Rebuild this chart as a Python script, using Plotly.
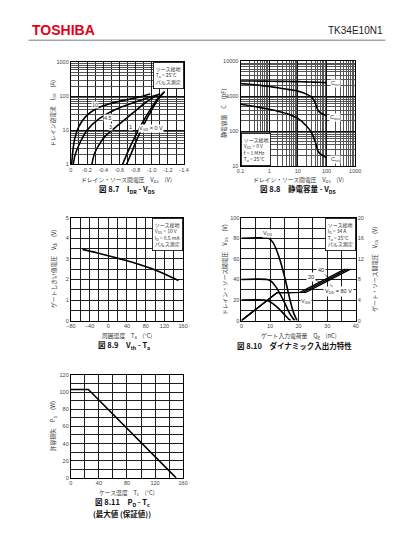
import math
import plotly.graph_objects as go

W, H = 396, 550

# ---------------- Fig 8.7  I_DR - V_DS ----------------
idr_vds_10 = [-0.01, -0.025, -0.05, -0.1, -0.18, -0.3, -0.47, -0.66, -0.85, -0.98]
idr_i_10 = [1, 2.5, 6, 13, 25, 42, 60, 77, 96, 118]
idr_vds_45 = [-0.03, -0.05, -0.1, -0.2, -0.35, -0.54, -0.77, -0.95, -1.06]
idr_i_45 = [1, 1.8, 3.7, 10, 22, 40, 65, 90, 110]
idr_vds_3 = [-0.26, -0.29, -0.34, -0.43, -0.58, -0.77, -0.92, -1.04, -1.1]
idr_i_3 = [1, 2, 3.5, 7, 14, 33, 65, 100, 120]
idr_vds_1 = [-0.64, -0.7, -0.78, -0.88, -0.98, -1.08, -1.15]
idr_i_1 = [1, 2.2, 5.6, 16, 40, 89, 132]
idr_vds_0 = [-0.69, -0.75, -0.82, -0.91, -1.0, -1.09, -1.16]
idr_i_0 = [1, 2.2, 5.6, 16, 40, 89, 140]
idr_x_ticks = [0, -0.2, -0.4, -0.6, -0.8, -1.0, -1.2, -1.4]
idr_x_text = ["0", "-0.2", "-0.4", "-0.6", "-0.8", "-1.0", "-1.2", "-1.4"]
idr_y_ticks = [1, 10, 100, 1000]

# ---------------- Fig 8.8  C - V_DS ----------------
cap_vds = [0.1, 0.2, 0.5, 1, 2, 5, 10, 20, 30, 40, 50, 60, 80, 100]
cap_ciss = [2750, 2740, 2720, 2700, 2680, 2650, 2620, 2580, 2560, 2540, 2520, 2500, 2480, 2460]
cap_coss = [2300, 2200, 2050, 1900, 1750, 1550, 1400, 1150, 950, 650, 400, 340, 300, 280]
cap_crss = [590, 540, 470, 420, 370, 300, 230, 140, 90, 50, 27, 22, 19, 17]
cap_x_ticks = [0.1, 1, 10, 100, 1000]
cap_y_ticks = [10, 100, 1000, 10000]

# ---------------- Fig 8.9  Vth - Ta ----------------
vth_ta = [-55, -25, 0, 25, 50, 75, 100, 125, 150]
vth_v = [3.46, 3.3, 3.15, 3.0, 2.85, 2.66, 2.46, 2.22, 1.95]

# ---------------- Fig 8.10  dynamic ----------------
dyn_q_vds80 = [0, 9.5, 11, 12.5, 14, 15.5, 17, 18.3, 19.5]
dyn_vds80 = [80, 80, 76, 67, 54, 38, 20, 7, 0]
dyn_q_vds40 = [0, 9, 10.5, 12, 13.5, 15, 16.5, 17.8, 18.7]
dyn_vds40 = [40, 40, 38, 33, 26, 18, 9, 3, 0]
dyn_q_vds20 = [0, 8, 9.5, 11, 12.5, 14, 15.5, 16.5, 17.3]
dyn_vds20 = [20, 20, 19, 16.5, 13, 9, 4.5, 1.5, 0]
dyn_q_vgs20 = [0, 12.5, 20.5, 36.2]
dyn_vgs20 = [0, 5.45, 5.5, 10]
dyn_q_vgs40 = [0, 12.5, 21.5, 37.2]
dyn_vgs40 = [0, 5.45, 5.5, 10]
dyn_q_vgs80 = [0, 12.5, 22.5, 38.2]
dyn_vgs80 = [0, 5.45, 5.5, 10]

# ---------------- Fig 8.11  PD - Tc ----------------
pd_tc = [0, 25, 150]
pd_w = [103, 103, 0]

JP = "Noto Sans CJK JP"
NUM = "Liberation Sans, Arial, sans-serif"
GRID = "#1e1e1e"
tickfont = dict(family=NUM, size=5.5, color="#444")


def fx(px):
    return px / W


def fy(py):
    return 1 - py / H


def base_axis(domain, anchor):
    return dict(domain=domain, anchor=anchor, showline=True, linecolor="black", linewidth=1,
                mirror=True, zeroline=False, ticks="", tickfont=tickfont, showgrid=True,
                gridcolor=GRID, gridwidth=0.8, fixedrange=True)


def lin_axis(domain, anchor, rng, dtick, mdtick):
    a = base_axis(domain, anchor)
    a.update(range=rng, dtick=dtick, tick0=0,
             minor=dict(dtick=mdtick, tick0=0, showgrid=True, gridcolor=GRID, gridwidth=0.6, ticks=""))
    return a


def log_axis(domain, anchor, rng, tickvals):
    a = base_axis(domain, anchor)
    lo, hi = rng
    minors = [m * 10 ** e for e in range(lo, hi) for m in range(2, 10)]
    a.update(type="log", range=[lo, hi], tickmode="array", tickvals=tickvals,
             ticktext=[("%g" % v) for v in tickvals], gridwidth=1.1, gridcolor="#111",
             minor=dict(tickmode="array", tickvals=minors, showgrid=True, gridcolor="#555",
                        gridwidth=0.5, ticks=""))
    return a


fig = go.Figure()
line = dict(color="black", width=1.6, shape="spline", smoothing=0.6)


def add(x, y, xa, ya, shape="spline"):
    l = dict(line)
    l["shape"] = shape
    if shape != "spline":
        l.pop("smoothing")
    fig.add_trace(go.Scatter(x=x, y=y, xaxis=xa, yaxis=ya, mode="lines", line=l,
                             showlegend=False, hoverinfo="skip"))


# chart 1
for xs, ys in [(idr_vds_10, idr_i_10), (idr_vds_45, idr_i_45), (idr_vds_3, idr_i_3),
               (idr_vds_1, idr_i_1), (idr_vds_0, idr_i_0)]:
    add(xs, ys, "x", "y")
# chart 2
for ys in [cap_ciss, cap_coss, cap_crss]:
    add(cap_vds, ys, "x2", "y2")
# chart 3
add(vth_ta, vth_v, "x3", "y3")
# chart 4
for xs, ys in [(dyn_q_vds80, dyn_vds80), (dyn_q_vds40, dyn_vds40), (dyn_q_vds20, dyn_vds20)]:
    add(xs, ys, "x4", "y4")
for xs, ys in [(dyn_q_vgs20, dyn_vgs20), (dyn_q_vgs40, dyn_vgs40), (dyn_q_vgs80, dyn_vgs80)]:
    fig.add_trace(go.Scatter(x=xs, y=ys, xaxis="x4", yaxis="y6", mode="lines",
                             line=dict(color="black", width=1.3), showlegend=False, hoverinfo="skip"))
# chart 5
add(pd_tc, pd_w, "x5", "y5", shape="linear")

d1x = [fx(59.5), fx(176)]
d1y = [fy(155), fy(52)]
d2x = [fx(234), fx(352)]
d2y = [fy(156.5), fy(51)]
d3x = [fx(59.5), fx(175)]
d3y = [fy(313), fy(209)]
d4x = [fx(235), fx(352.5)]
d5x = [fx(59.5), fx(175)]
d5y = [fy(472), fy(368)]

ax1x = lin_axis(d1x, "y", [0, -1.4], 0.2, 0.1)
ax1x.update(tickmode="array", tickvals=idr_x_ticks, ticktext=idr_x_text)
ax1x["minor"] = dict(tickmode="array", tickvals=[-0.1, -0.3, -0.5, -0.7, -0.9, -1.1, -1.3],
                     showgrid=True, gridcolor=GRID, gridwidth=0.6, ticks="")

ax6 = lin_axis(d3y, "x4", [0, 20], 4, 2)
ax6.update(overlaying="y4", side="right", showgrid=False, minor=dict(showgrid=False))

fig.update_layout(
    width=W, height=H, autosize=False, margin=dict(l=0, r=0, t=0, b=0),
    paper_bgcolor="white", plot_bgcolor="white",
    xaxis=ax1x,
    yaxis=log_axis(d1y, "x", [0, 3], idr_y_ticks),
    xaxis2=log_axis(d2x, "y2", [-1, 3], cap_x_ticks),
    yaxis2=log_axis(d2y, "x2", [1, 4], cap_y_ticks),
    xaxis3=lin_axis(d3x, "y3", [-80, 160], 40, 20),
    yaxis3=lin_axis(d3y, "x3", [0, 5], 1, 0.5),
    xaxis4=lin_axis(d4x, "y4", [0, 40], 10, 5),
    yaxis4=lin_axis(d3y, "x4", [0, 100], 20, 10),
    yaxis6=ax6,
    xaxis5=lin_axis(d5x, "y5", [0, 160], 40, 20),
    yaxis5=lin_axis(d5y, "x5", [0, 120], 20, 10),
)

ann = []


def txt(text, x, y, size=6, xref="paper", yref="paper", xanchor="center", yanchor="middle",
        bold=False, angle=0, color="#333", family=JP, **kw):
    if bold:
        text = "<b>" + text + "</b>"
    d = dict(text=text, x=x, y=y, xref=xref, yref=yref, xanchor=xanchor, yanchor=yanchor,
             showarrow=False, textangle=angle, font=dict(family=family, size=size, color=color))
    d.update(kw)
    ann.append(d)


# header
txt("TOSHIBA", fx(17), fy(19), size=14, xanchor="left", bold=True, color="#e2001a",
    family="Liberation Sans, Arial, sans-serif")
txt("TK34E10N1", fx(383), fy(20), size=10, xanchor="right", color="#222",
    family="Liberation Sans, Arial, sans-serif")

# axis titles / captions
txt("ドレイン・ソース間電圧　V<sub>DS</sub>　(V)", fx(117), fy(170), size=5.8)
txt("図 8.7　I<sub>DR</sub> - V<sub>DS</sub>", fx(117), fy(180), size=7.5, bold=True, color="#111")
txt("ドレイン逆電流　I<sub>DR</sub>　(A)", fx(41), fy(103), size=5.8, angle=-90)

txt("ドレイン・ソース間電圧　V<sub>DS</sub>　(V)", fx(294), fy(170), size=5.8)
txt("図 8.8　静電容量 - V<sub>DS</sub>", fx(294), fy(180), size=7.5, bold=True, color="#111")
txt("静電容量　C　(pF)", fx(217), fy(103), size=5.8, angle=-90)

txt("周囲温度　T<sub>a</sub>　(°C)", fx(117), fy(328), size=5.8)
txt("図 8.9　V<sub>th</sub> - T<sub>a</sub>", fx(114), fy(338.5), size=7.5, bold=True, color="#111")
txt("ゲートしきい値電圧　V<sub>th</sub>　(V)", fx(41), fy(261), size=5.8, angle=-90)

txt("ゲート入力電荷量　Q<sub>g</sub>　(nC)", fx(294), fy(328), size=5.8)
txt("図 8.10　ダイナミック入出力特性", fx(290), fy(338.5), size=7.5, bold=True, color="#111")
txt("ドレイン・ソース間電圧　V<sub>DS</sub>　(V)", fx(217), fy(261), size=5.8, angle=-90)
txt("ゲート・ソース間電圧　V<sub>GS</sub>　(V)", fx(371), fy(261), size=5.8, angle=-90)

txt("ケース温度　T<sub>c</sub>　(°C)", fx(117), fy(487), size=5.8)
txt("図 8.11　P<sub>D</sub> - T<sub>c</sub>", fx(113), fy(497), size=7.5, bold=True, color="#111")
txt("(最大値 (保証値))", fx(112), fy(508), size=7.5, bold=True, color="#111")
txt("許容損失　P<sub>D</sub>　(W)", fx(41), fy(420), size=5.8, angle=-90)

box = dict(bgcolor="white", bordercolor="black", borderwidth=0.8, borderpad=2, align="left")
txt("ソース接地<br>T<sub>a</sub> = 25°C<br>パルス測定", 1, 1, size=5, xref="x domain",
    yref="y domain", xanchor="right", yanchor="top", **box)
txt("ソース接地<br>V<sub>GS</sub> = 0 V<br>f = 1 MHz<br>T<sub>a</sub> = 25°C", 0, 0, size=5,
    xref="x2 domain", yref="y2 domain", xanchor="left", yanchor="bottom", **box)
txt("ソース接地<br>V<sub>DS</sub> = 10 V<br>I<sub>D</sub> = 0.5 mA<br>パルス測定", 1, 1, size=5,
    xref="x3 domain", yref="y3 domain", xanchor="right", yanchor="top", **box)
txt("ソース接地<br>I<sub>D</sub> = 34 A<br>T<sub>a</sub> = 25°C<br>パルス測定", 1, 1, size=5,
    xref="x4 domain", yref="y4 domain", xanchor="right", yanchor="top", **box)

# curve labels chart 1
lab = dict(bgcolor="white", borderpad=0)
L = math.log10
txt("10", -0.3, L(55), size=5.5, xref="x", yref="y", family=NUM, **lab)
txt("4.5", -0.46, L(23), size=5.5, xref="x", yref="y", family=NUM, **lab)
txt("3", -0.49, L(12.6), size=5.5, xref="x", yref="y", family=NUM, **lab)
txt("1", -0.74, L(12.6), size=5.5, xref="x", yref="y", family=NUM, **lab)
txt("V<sub>GS</sub> = 0 V", -0.99, L(11.7), size=5.5, xref="x", yref="y", family=NUM, **lab)

# curve labels chart 2
txt("C<sub>iss</sub>", L(200), L(2250), size=5.5, xref="x2", yref="y2", family=NUM, **lab)
txt("C<sub>oss</sub>", L(200), L(250), size=5.5, xref="x2", yref="y2", family=NUM, **lab)
txt("C<sub>rss</sub>", L(200), L(15), size=5.5, xref="x2", yref="y2", family=NUM, **lab)

# curve labels chart 4
txt("V<sub>DS</sub>", 9, 85, size=5.5, xref="x4", yref="y4", family=NUM, **lab)
txt("V<sub>GS</sub>", 22.5, 19, size=5.5, xref="x4", yref="y4", family=NUM, **lab)
arrow = dict(showarrow=True, arrowhead=0, arrowwidth=0.6, arrowcolor="black", axref="x4", ayref="y4")
ann.append(dict(text="40", x=30.5, y=40.5, xref="x4", yref="y4", ax=28, ay=49.5,
                font=dict(family=NUM, size=5.5, color="#222"), bgcolor="white", **arrow))
ann.append(dict(text="20", x=27.5, y=37, xref="x4", yref="y4", ax=24.5, ay=42,
                font=dict(family=NUM, size=5.5, color="#222"), bgcolor="white", **arrow))
ann.append(dict(text="V<sub>DD</sub> = 80 V", x=31, y=35, xref="x4", yref="y4", ax=34, ay=28,
                font=dict(family=NUM, size=5.5, color="#222"), bgcolor="white", **arrow))

fig.update_layout(annotations=ann, shapes=[
    dict(type="line", xref="paper", yref="paper", x0=fx(16), x1=fx(383), y0=fy(29.5), y1=fy(29.5),
         line=dict(color="#777", width=1))
])

fig.write_html("out.html")
